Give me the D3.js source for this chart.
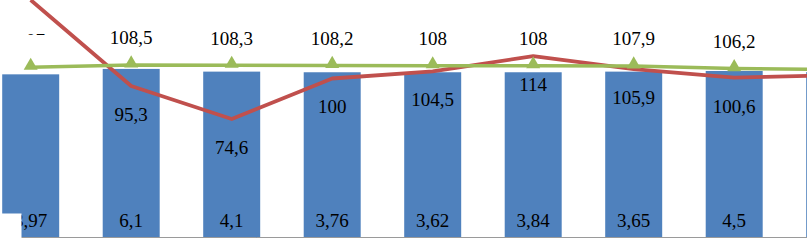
<!DOCTYPE html>
<html>
<head>
<meta charset="utf-8">
<script src="https://cdn.jsdelivr.net/npm/d3@7"></script>
<style>
    body { margin: 0; background: #fff; }
    #chart text { font-family: "Liberation Serif", "Times New Roman", serif; font-size: 19px; fill: #000; }
</style>
</head>
<body>
<svg id="chart"></svg>
<script>
let categories = ["1", "2", "3", "4", "5", "6", "7", "8", "9"];
let barValues = [102.6, 106, 104.3, 103.9, 103.9, 103.9, 104.3, 104.7, 104];
let barLabels = [3.97, 6.1, 4.1, 3.76, 3.62, 3.84, 3.65, 4.5, null];
let redValues = [149.2, 95.3, 74.6, 100, 104.5, 114, 105.9, 100.6, 102];
let greenValues = [107, 108.5, 108.3, 108.2, 108, 108, 107.9, 106.2, 105.6];

let width = 807;
let height = 240;
let step = 100.5;
let x0 = -19.55;

let x = d3.scaleBand().domain(categories)
    .range([x0, x0 + step * categories.length])
    .paddingInner(0.433).paddingOuter(0.2165);
let y = d3.scaleLinear().domain([0, 149.2]).range([238, 0]);

let comma = function (v) { return String(v).replace('.', ','); };
let cx = function (d, i) { return x(categories[i]) + x.bandwidth() / 2; };
// only the labels that fall inside the picture (the 9th point is off to the right)
let shown = function (i) { return i < 8; };

let svg = d3.select('#chart').attr('width', width).attr('height', height);

// bars
svg.selectAll('.bar').data(barValues).enter().append('rect')
    .attr('class', 'bar')
    .attr('x', function (d, i) { return x(categories[i]); })
    .attr('y', function (d) { return y(d); })
    .attr('width', x.bandwidth())
    .attr('height', function (d) { return y(0) - y(d); })
    .attr('fill', '#4F81BD');

// axis line
svg.append('line')
    .attr('x1', 0).attr('x2', width)
    .attr('y1', y(0) - 0.5).attr('y2', y(0) - 0.5)
    .attr('stroke', '#9a9a9a').attr('stroke-width', 1);

let line = d3.line()
    .x(function (d, i) { return cx(d, i); })
    .y(function (d) { return y(d); });

svg.append('path').datum(redValues)
    .attr('d', line)
    .attr('fill', 'none')
    .attr('stroke', '#C0504D')
    .attr('stroke-width', 3.8)
    .attr('stroke-linejoin', 'round');

svg.append('path').datum(greenValues)
    .attr('d', line)
    .attr('fill', 'none')
    .attr('stroke', '#9BBB59')
    .attr('stroke-width', 3.5)
    .attr('stroke-linejoin', 'round');

let tri = d3.symbol().type(d3.symbolTriangle).size(85);
svg.selectAll('.marker').data(greenValues).enter().append('path')
    .attr('class', 'marker')
    .attr('d', tri)
    .attr('fill', '#9BBB59')
    .attr('transform', function (d, i) {
        return 'translate(' + cx(d, i) + ',' + (y(d) - 1.5) + ')';
    });

// clip for the partly hidden first top label
svg.append('clipPath').attr('id', 'firstClip')
    .append('rect').attr('x', 24).attr('y', 0).attr('width', 60).attr('height', 35);

// green labels above
svg.selectAll('.glabel').data(greenValues).enter().append('text')
    .attr('class', 'glabel')
    .attr('x', cx)
    .attr('y', function (d) { return y(d) - 20.5; })
    .attr('text-anchor', 'middle')
    .attr('clip-path', function (d, i) { return i === 0 ? 'url(#firstClip)' : null; })
    .text(function (d, i) { return shown(i) ? comma(d) : ''; });

// red labels below (first point is off the top)
svg.selectAll('.rlabel').data(redValues).enter().append('text')
    .attr('class', 'rlabel')
    .attr('x', cx)
    .attr('y', function (d) { return y(d) + 35; })
    .attr('text-anchor', 'middle')
    .text(function (d, i) { return i > 0 && shown(i) ? comma(d) : ''; });

// bar labels at the bottom
svg.selectAll('.blabel').data(barLabels).enter().append('text')
    .attr('class', 'blabel')
    .attr('x', cx)
    .attr('y', 227)
    .attr('text-anchor', 'middle')
    .text(function (d) { return d === null ? '' : comma(d); });

// white patch in the lower left corner
svg.append('rect')
    .attr('x', 0).attr('y', 213.5).attr('width', 21.5).attr('height', 27)
    .attr('fill', '#fff');
</script>
</body>
</html>
